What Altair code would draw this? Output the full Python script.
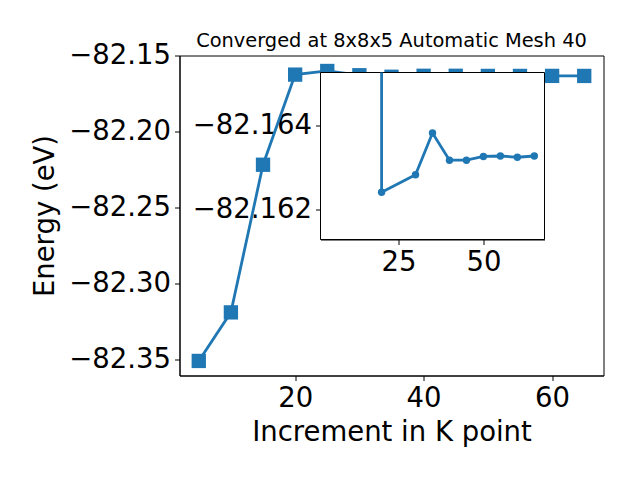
import altair as alt
import pandas as pd

# Main series: energy vs increment in K point
k_points = [5, 10, 15, 20, 25, 30, 35, 40, 45, 50, 55, 60, 65]
energies = [-82.3511, -82.3191, -82.2218, -82.1624, -82.1600, -82.16282,
            -82.16382, -82.16317, -82.16317, -82.16326, -82.16327, -82.16324, -82.16327]

# Inset series (zoomed, inverted y axis)
inset_k = [20, 30, 35, 40, 45, 50, 55, 60, 65]
inset_e = [-82.16240, -82.16282, -82.16382, -82.16317, -82.16317, -82.16326,
           -82.16327, -82.16324, -82.16327]

main_x_domain = [2, 68]
main_y_domain = [-82.3607, -82.1498]
main_y_ticks = [-82.35, -82.30, -82.25, -82.20, -82.15]
main_x_ticks = [20, 40, 60]

inset_x_domain = [2, 68]
inset_y_domain = [-82.16527, -82.16127]  # drawn top -> bottom (inverted)
inset_y_ticks = [-82.164, -82.162]
inset_x_ticks = [25, 50]

W, H = 424, 320
# inset placement inside the plot area (pixels)
INSET_X = [141.0, 365.0]
INSET_Y = [17.0, 184.0]

COLOR = "#1f77b4"
FONT = "DejaVu Sans"
FS = 27.5

main_df = pd.DataFrame({"k": k_points, "e": energies})
inset_df = pd.DataFrame({"k": inset_k, "e": inset_e})
frame_df = pd.DataFrame({"x1": [inset_x_domain[0]], "x2": [inset_x_domain[1]],
                         "y1": [inset_y_domain[0]], "y2": [inset_y_domain[1]]})
# off-scale segment: the line leaving the inset upward from the first inset point
seg_df = pd.DataFrame({"k": [inset_k[0]], "e": [inset_e[0]], "top": [inset_y_domain[0]]})

axis_common = dict(labelFont=FONT, labelFontSize=FS, labelColor="black",
                   titleFont=FONT, titleFontSize=FS, titleColor="black",
                   titleFontWeight="normal", tickColor="black", domainColor="black",
                   tickSize=5, tickWidth=1, domainWidth=1, labelPadding=4, grid=False)

mx_axis = alt.Axis(values=main_x_ticks, title="Increment in K point", titlePadding=6, **axis_common)
my_axis = alt.Axis(values=main_y_ticks, format=".2f", title="Energy (eV)", titlePadding=9, **axis_common)

mx = alt.X("k:Q", scale=alt.Scale(domain=main_x_domain, nice=False, zero=False), axis=mx_axis)
my = alt.Y("e:Q", scale=alt.Scale(domain=main_y_domain, nice=False, zero=False), axis=my_axis)

main_line = alt.Chart(main_df).mark_line(color=COLOR, strokeWidth=2.8).encode(x=mx, y=my)
main_pts = alt.Chart(main_df).mark_point(shape="square", filled=True, size=205, opacity=1,
                                         color=COLOR).encode(x=mx, y=my)
main = alt.layer(main_line, main_pts)

ix_scale = alt.Scale(domain=inset_x_domain, range=INSET_X, nice=False, zero=False)
iy_scale = alt.Scale(domain=inset_y_domain, range=INSET_Y, nice=False, zero=False)
ix_axis = alt.Axis(values=inset_x_ticks, orient="bottom", offset=INSET_Y[1] - H, title=None, **axis_common)
iy_axis = alt.Axis(values=inset_y_ticks, orient="left", offset=-INSET_X[0], format=".3f",
                   title=None, **axis_common)

frame = alt.Chart(frame_df).mark_rect(fill="white", stroke="black", strokeWidth=1).encode(
    x=alt.X("x1:Q", scale=ix_scale, axis=ix_axis),
    x2="x2:Q",
    y=alt.Y("y1:Q", scale=iy_scale, axis=iy_axis),
    y2="y2:Q",
)
seg = alt.Chart(seg_df).mark_rule(color=COLOR, strokeWidth=2.8).encode(
    x=alt.X("k:Q", scale=ix_scale, axis=ix_axis),
    y=alt.Y("e:Q", scale=iy_scale, axis=iy_axis),
    y2="top:Q",
)
inset_line = alt.Chart(inset_df).mark_line(color=COLOR, strokeWidth=2.8).encode(
    x=alt.X("k:Q", scale=ix_scale, axis=ix_axis),
    y=alt.Y("e:Q", scale=iy_scale, axis=iy_axis),
)
inset_pts = alt.Chart(inset_df).mark_circle(color=COLOR, size=55, opacity=1).encode(
    x=alt.X("k:Q", scale=ix_scale, axis=ix_axis),
    y=alt.Y("e:Q", scale=iy_scale, axis=iy_axis),
)
inset = alt.layer(frame, seg, inset_line, inset_pts)

chart = alt.layer(main, inset).resolve_scale(x="independent", y="independent").properties(
    width=W, height=H,
    title=alt.TitleParams("Converged at 8x8x5 Automatic Mesh 40", font=FONT, fontSize=19.4,
                          fontWeight="normal", color="black", offset=-10),
    autosize=alt.AutoSizeParams(type="none"),
    padding={"left": 171.5, "top": 47.5, "right": 20, "bottom": 90},
).configure(background="white", view=alt.ViewConfig(stroke="black", strokeWidth=1))

chart.save("out.html", embed_options={"renderer": "svg", "actions": False})
